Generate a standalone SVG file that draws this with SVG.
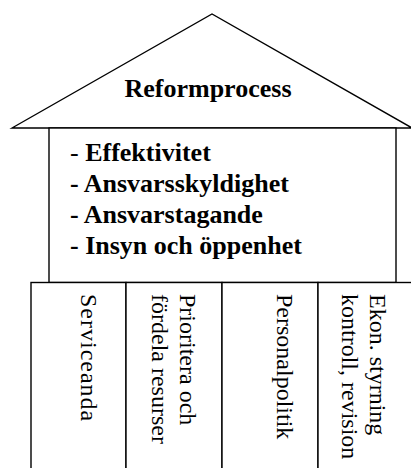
<svg xmlns="http://www.w3.org/2000/svg" width="411" height="468" viewBox="0 0 411 468">
<style>
.ln{fill:#fff;stroke:#000;stroke-width:1.4}
.t{font-family:"Liberation Serif","Times New Roman",serif;fill:#000}
.b{font-weight:bold;font-size:26px}
.p{font-size:24px}
</style>
<rect x="0" y="0" width="411" height="468" fill="#fff"/>
<g id="roof">
<polygon class="ln" points="12,128 212,14 412,128"/>
<text class="t b" x="208" y="96.5" text-anchor="middle">Reformprocess</text>
</g>
<g id="body">
<rect class="ln" x="49" y="128" width="347" height="154.5"/>
<text class="t b" x="70" y="161"><tspan font-weight="normal">-</tspan> Effektivitet</text>
<text class="t b" x="70" y="192">- Ansvarsskyldighet</text>
<text class="t b" x="70" y="223">- Ansvarstagande</text>
<text class="t b" x="70" y="254">- Insyn och öppenhet</text>
</g>
<g id="pillar1">
<rect class="ln" x="31" y="282.5" width="95" height="190"/>
<text class="t p" transform="translate(81,294) rotate(90)" letter-spacing="1">Serviceanda</text>
</g>
<g id="pillar2">
<rect class="ln" x="126" y="282.5" width="96" height="190"/>
<text class="t p" transform="translate(180,294) rotate(90)">Prioritera och</text>
<text class="t p" transform="translate(152,294) rotate(90)">fördela resurser</text>
</g>
<g id="pillar3">
<rect class="ln" x="222" y="282.5" width="96" height="190"/>
<text class="t p" transform="translate(277,294) rotate(90)">Personalpolitik</text>
</g>
<g id="pillar4">
<rect class="ln" x="318" y="282.5" width="96" height="190"/>
<text class="t p" transform="translate(370,294) rotate(90)">Ekon. styrning</text>
<text class="t p" transform="translate(342,294) rotate(90)">kontroll, revision</text>
</g>
<g id="connectors"></g>
</svg>
